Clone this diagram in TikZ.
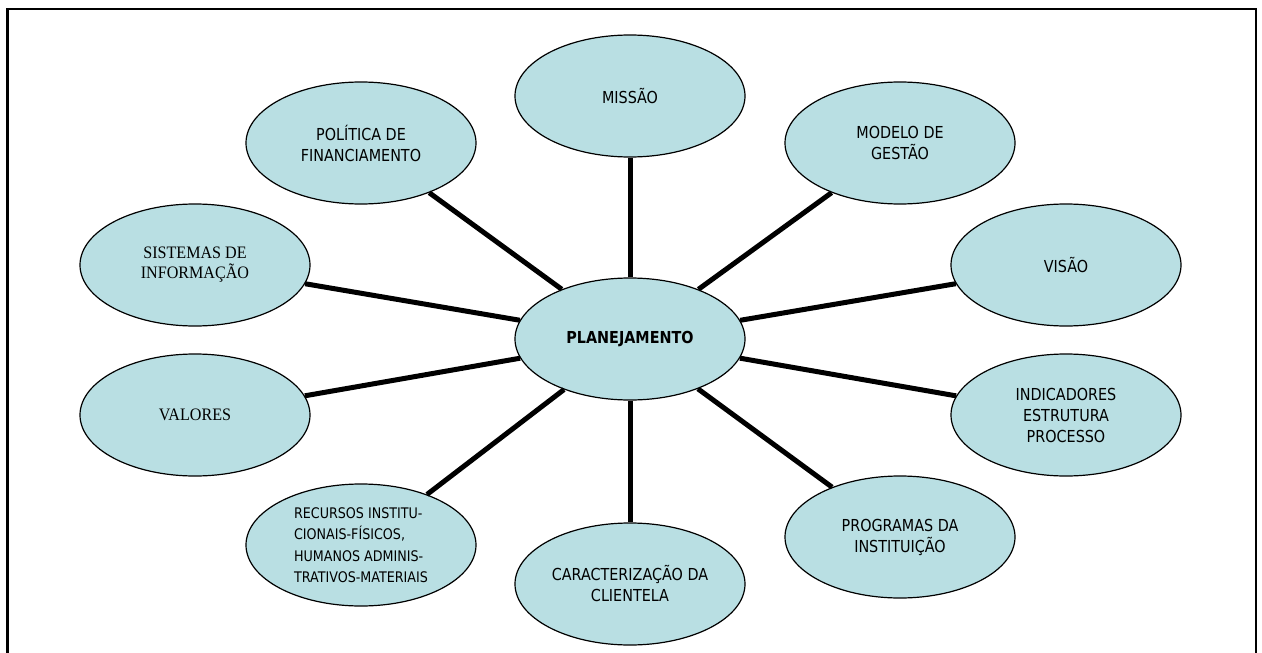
\documentclass[tikz,border=0pt]{standalone}
\usepackage{fontspec}
\usepackage{tikz}
\usepackage{xcolor}
\usetikzlibrary{shapes.geometric}
\newfontfamily\tahomafont[FakeStretch=0.87]{DejaVu Sans}
\newfontfamily\romanfont[FakeStretch=0.92]{Liberation Serif}
\definecolor{ovalblue}{RGB}{185,223,227}
\tikzset{
    topic-oval/.style = {draw=black, fill=ovalblue, ellipse, line width=1.2pt, minimum width=230pt, minimum height=122pt, inner sep=0pt, align=center, font=\tahomafont\fontsize{16.5}{21}\selectfont},
    hub-oval/.style = {topic-oval, font=\tahomafont\bfseries\fontsize{16.5}{21}\selectfont},
    roman-text/.style = {font=\romanfont\fontsize{17.5}{20}\selectfont},
    small-text/.style = {align=left, font=\tahomafont\fontsize{14.6}{21.5}\selectfont},
    spoke/.style = {line width=5pt},
}

\begin{document}
\begin{tikzpicture}[x=1pt, y=-1pt]
\clip (0,0) rectangle (1262,653);
\draw[line width=2.5pt] (7.5,9) rectangle (1256,720);

\node[hub-oval] (plan) at (630,339) {PLANEJAMENTO};
\node[topic-oval] (missao) at (630,96) {MISSÃO};
\node[topic-oval] (politica) at (361,143) {POLÍTICA DE\\FINANCIAMENTO};
\node[topic-oval] (modelo) at (900,143) {MODELO DE\\GESTÃO};
\node[topic-oval, roman-text] (sistemas) at (195,265) {SISTEMAS DE\\INFORMAÇÃO};
\node[topic-oval] (visao) at (1066,265) {VISÃO};
\node[topic-oval, roman-text] (valores) at (195,415) {VALORES};
\node[topic-oval] (indicadores) at (1066,415) {INDICADORES\\ESTRUTURA\\PROCESSO};
\node[topic-oval, small-text] (recursos) at (361,545) {RECURSOS INSTITU-\\CIONAIS-FÍSICOS,\\HUMANOS ADMINIS-\\TRATIVOS-MATERIAIS};
\node[topic-oval] (programas) at (900,537) {PROGRAMAS DA\\INSTITUIÇÃO};
\node[topic-oval] (clientela) at (630,584) {CARACTERIZAÇÃO DA\\CLIENTELA};

% spokes from the hub
\foreach \n in {missao,politica,modelo,sistemas,visao,valores,indicadores,recursos,programas,clientela}
    \draw[spoke] (plan) -- (\n);
\end{tikzpicture}
\end{document}
